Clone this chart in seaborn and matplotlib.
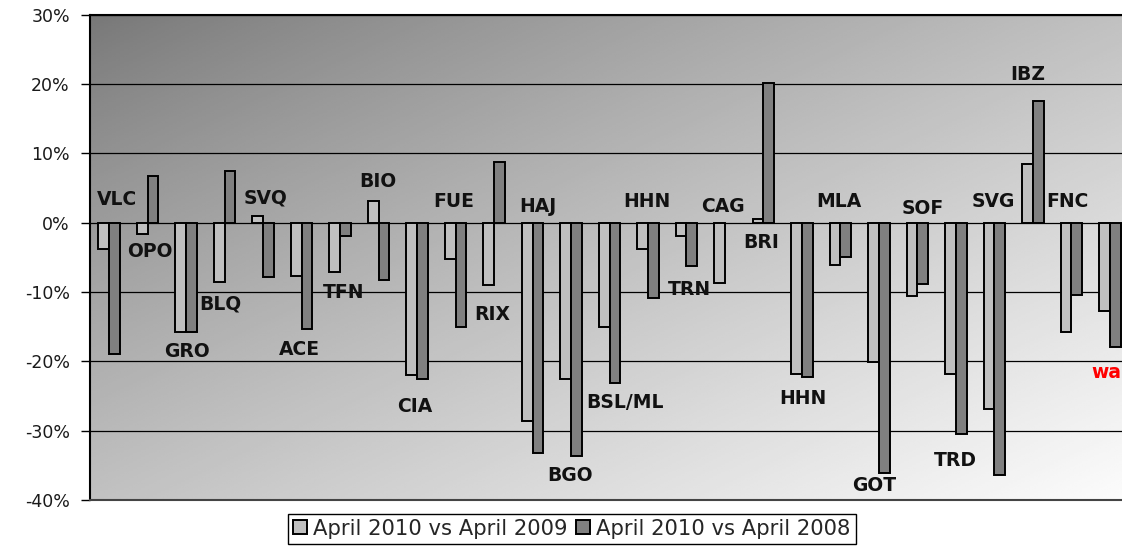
import numpy as np
import pandas as pd
import seaborn as sns
import matplotlib.pyplot as plt
from matplotlib.ticker import FuncFormatter

# airport codes in chart order (HHN shows up twice in the source)
codes = ["VLC", "OPO", "GRO", "BLQ", "SVQ", "ACE", "TFN", "BIO", "CIA", "FUE",
         "RIX", "HAJ", "BGO", "BSL/ML", "HHN", "TRN", "CAG", "BRI", "HHN", "MLA",
         "GOT", "SOF", "TRD", "SVG", "IBZ", "FNC", "wa"]

# % change
vs_2009 = [-3.8, -1.7, -15.8, -8.5, 1.0, -7.7, -7.1, 3.2, -22.0, -5.2,
           -9.0, -28.6, -22.6, -15.0, -3.8, -1.9, -8.7, 0.5, -21.8, -6.1,
           -20.1, -10.6, -21.8, -26.9, 8.4, -15.8, -12.8]
vs_2008 = [-19.0, 6.7, -15.8, 7.5, -7.9, -15.3, -1.9, -8.2, -22.6, -15.0,
           8.7, -33.2, -33.7, -23.1, -10.9, -6.3, np.nan, 20.1, -22.3, -5.0,
           -36.1, -8.8, -30.5, -36.4, 17.6, -10.4, -18.0]

series_names = ["April 2010 vs April 2009", "April 2010 vs April 2008"]

# where the code labels sit (category units, % units)
label_x = [0.21, 1.05, 2.03, 2.89, 4.07, 4.93, 6.10, 6.98, 7.93, 8.96,
           9.95, 11.15, 11.98, 13.39, 13.96, 15.09, 15.94, 16.93, 18.02, 18.97,
           19.89, 21.13, 22.0, 22.98, 23.87, 24.91, 25.51]
label_y = [3.3, -4.2, -18.6, -11.7, 3.6, -18.3, -10.0, 6.0, -26.5, 3.0,
           -13.2, 2.3, -36.4, -26.0, 3.1, -9.7, 2.3, -2.9, -25.4, 3.1,
           -37.9, 2.0, -34.3, 3.0, 21.4, 3.1, -21.6]

slots = list(range(len(codes)))
df = pd.DataFrame({
    "slot": slots * 2,
    "series": [series_names[0]] * len(codes) + [series_names[1]] * len(codes),
    "change": vs_2009 + vs_2008,
})

sns.set_style("white")
plt.rcParams["font.family"] = ["DejaVu Sans"]

fig = plt.figure(figsize=(11.22, 5.5), dpi=100)
ax = fig.add_axes([90 / 1122, 50 / 550, 1039 / 1122, 485.3 / 550])

# diagonal grey gradient behind the plot
gx, gy = np.meshgrid(np.linspace(0, 1, 256), np.linspace(0, 1, 256))
t = (gx + (1 - gy)) / 2
shade = (119 + (252 - 119) * t ** 0.85) / 255
ax.imshow(shade, cmap="gray", vmin=0, vmax=1, extent=(0, 1, 0, 1),
          origin="lower", transform=ax.transAxes, aspect="auto",
          interpolation="bilinear", zorder=-2)

sns.barplot(data=df, x="slot", y="change", hue="series", order=slots,
            hue_order=series_names, palette=["#c0c0c0", "#808080"],
            edgecolor="black", linewidth=1.4, width=0.56, errorbar=None,
            ax=ax, zorder=2)

ax.set_xlim(-0.5, 26.5)
ax.set_ylim(-40, 30)
ax.set_yticks(range(-40, 31, 10))
ax.yaxis.set_major_formatter(FuncFormatter(lambda v, _: f"{v:.0f}%"))
ax.tick_params(axis="y", left=True, length=6.5, width=1, color="black",
               pad=8, labelsize=12.5, labelcolor="#1a1a1a")
ax.set_xticks([])
ax.set_xlabel("")
ax.set_ylabel("")

ax.grid(axis="y", color="black", linewidth=0.9)
ax.set_axisbelow(True)
for gl in ax.get_ygridlines():
    gl.set_zorder(-1)

ax.spines["left"].set_color("black")
ax.spines["left"].set_linewidth(1.5)
ax.spines["top"].set_color("black")
ax.spines["top"].set_linewidth(1.5)
ax.spines["bottom"].set_color("#444444")
ax.spines["bottom"].set_linewidth(1.5)
ax.spines["right"].set_visible(False)

for i, code in enumerate(codes):
    is_last = i == len(codes) - 1
    ax.text(label_x[i], label_y[i], code, fontsize=13.5, fontweight="bold",
            color="red" if is_last else "#111111",
            ha="left" if is_last else "center", va="center", zorder=3)

sns.move_legend(ax, "upper center", bbox_to_anchor=((572 - 90) / 1039, -0.028),
                ncol=2, title=None, frameon=True, fancybox=False,
                fontsize=15.2, handlelength=0.65, handleheight=0.65,
                handletextpad=0.3, columnspacing=0.4, borderpad=0.25,
                borderaxespad=0)
leg = ax.get_legend()
leg.get_frame().set_edgecolor("black")
leg.get_frame().set_linewidth(1)
leg.get_frame().set_alpha(1)

fig.savefig("out.png", dpi=100)
